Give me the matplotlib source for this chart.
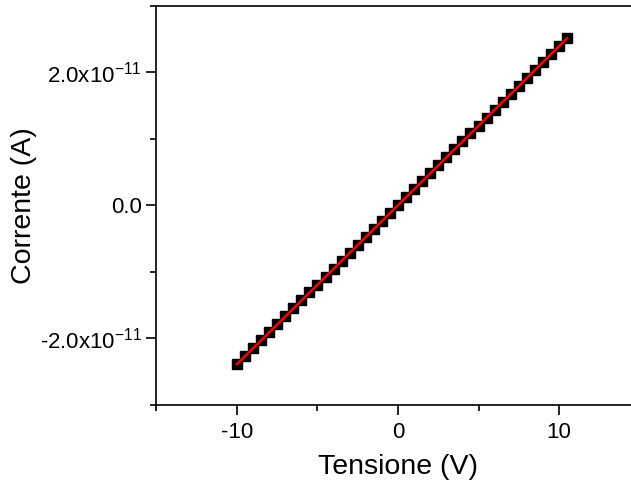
import matplotlib
matplotlib.use("Agg")
import matplotlib.pyplot as plt
from matplotlib.ticker import FixedLocator, FuncFormatter
import numpy as np

plt.rcParams['font.family'] = ['Liberation Sans', 'DejaVu Sans']
plt.rcParams['mathtext.default'] = 'regular'
plt.rcParams['axes.unicode_minus'] = False

# voltage sweep (V) and measured current (pA)
tensione = [-10.0, -9.5, -9.0, -8.5, -8.0, -7.5, -7.0, -6.5, -6.0, -5.5, -5.0,
            -4.5, -4.0, -3.5, -3.0, -2.5, -2.0, -1.5, -1.0, -0.5, 0.0,
            0.5, 1.0, 1.5, 2.0, 2.5, 3.0, 3.5, 4.0, 4.5, 5.0,
            5.5, 6.0, 6.5, 7.0, 7.5, 8.0, 8.5, 9.0, 9.5, 10.0, 10.5]
corrente_pA = [-23.9, -22.7, -21.5, -20.3, -19.1, -17.9, -16.7, -15.5, -14.3, -13.1, -12.0,
               -10.8, -9.6, -8.4, -7.2, -6.0, -4.8, -3.6, -2.4, -1.2, 0.0,
               1.2, 2.4, 3.6, 4.8, 6.0, 7.2, 8.4, 9.6, 10.8, 12.0,
               13.1, 14.3, 15.5, 16.7, 17.9, 19.1, 20.3, 21.5, 22.7, 23.9, 25.1]

xticks = [-10, 0, 10]
xminor = [-15, -5, 5, 15]
yticks = [-2e-11, 0, 2e-11]
yminor = [-3e-11, -1e-11, 1e-11, 3e-11]

V = np.array(tensione)
I = np.array(corrente_pA) * 1e-12

# linear fit
m, q = np.polyfit(V, I, 1)
vfit = np.array([V.min(), V.max()])

fig = plt.figure(figsize=(6.31, 4.82), dpi=100)
ax = fig.add_axes([0.248, 0.16, 0.7655, 0.828])

ax.plot(V, I, 's', color='black', markersize=7.5, zorder=2)
ax.plot(vfit, m * vfit + q, '-', color='red', lw=1.8, zorder=3)

ax.set_xlim(-15, 15)
ax.set_ylim(-3e-11, 3e-11)

ax.xaxis.set_major_locator(FixedLocator(xticks))
ax.xaxis.set_minor_locator(FixedLocator(xminor))
ax.yaxis.set_major_locator(FixedLocator(yticks))
ax.yaxis.set_minor_locator(FixedLocator(yminor))

def yfmt(v, pos):
    if abs(v) < 1e-15:
        return '0.0'
    s = '-' if v < 0 else ''
    return s + '%.1fx10$^{-11}$' % (abs(v) / 1e-11)

ax.yaxis.set_major_formatter(FuncFormatter(yfmt))
ax.xaxis.set_major_formatter(FuncFormatter(lambda v, p: '%d' % v))

for sp in ax.spines.values():
    sp.set_linewidth(1.2)

ax.tick_params(which='major', direction='out', length=7, width=1.2, labelsize=16,
               top=False, right=False)
ax.tick_params(which='minor', direction='out', length=4, width=1.2,
               top=False, right=False)
ax.tick_params(axis='x', pad=5)

ax.set_xlabel('Tensione (V)', fontsize=20.5, labelpad=8)
ax.set_ylabel('Corrente (A)', fontsize=20.5, labelpad=2)

fig.savefig('out.png', dpi=100)
